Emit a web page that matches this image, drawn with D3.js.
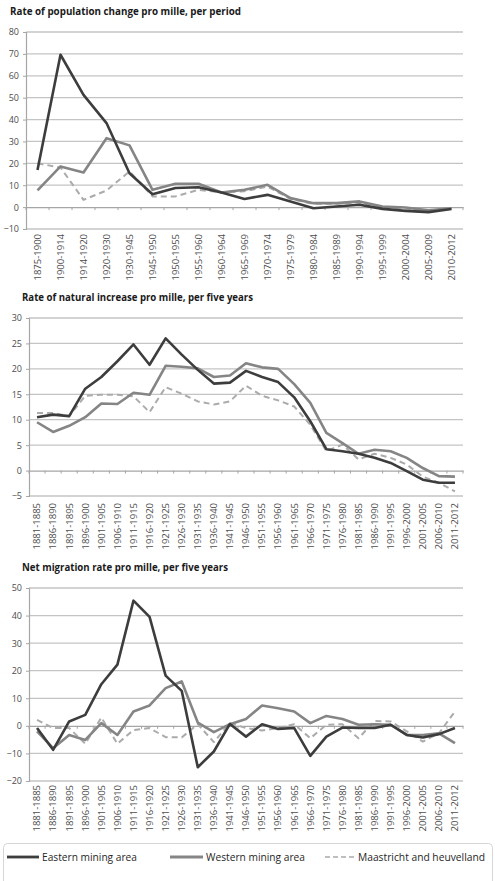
<!DOCTYPE html>
<html><head><meta charset="utf-8">
<script src="https://cdn.jsdelivr.net/npm/d3@7"></script>
<style>
body{margin:0;background:#fff;}
svg{display:block;font-family:"Open Sans",sans-serif;}
</style></head>
<body>
<script>
// ---------- DATA ----------
const periods1 = ["1875-1900","1900-1914","1914-1920","1920-1930","1930-1945","1945-1950","1950-1955","1955-1960","1960-1964","1965-1969","1970-1974","1975-1979","1980-1984","1985-1989","1990-1994","1995-1999","2000-2004","2005-2009","2010-2012"];
const eastern1 = [17,69.6,51.3,38.4,15.5,5.9,8.7,9.1,6.7,3.7,5.6,2.6,-0.5,0.3,1.1,-0.8,-1.7,-2.3,-0.9];
const western1 = [7.6,18.6,15.8,31.5,28.2,7.9,10.7,10.7,6.7,7.9,10.2,4.1,1.8,1.8,2.6,0.3,-0.2,-1.5,-0.5];
const maas1    = [20,18.1,3.3,7.6,16.3,4.9,4.9,7.9,6.7,7.2,9.4,3.7,1.5,1.5,2.1,0,-1.2,-2,-0.5];

const periods5 = ["1881-1885","1886-1890","1891-1895","1896-1900","1901-1905","1906-1910","1911-1915","1916-1920","1921-1925","1926-1930","1931-1935","1936-1940","1941-1945","1946-1950","1951-1955","1956-1960","1961-1965","1966-1970","1971-1975","1976-1980","1981-1985","1986-1990","1991-1995","1996-2000","2001-2005","2006-2010","2011-2012"];
const eastern2 = [10.5,11,10.7,16.1,18.4,21.5,24.8,20.8,26,22.8,19.8,17.1,17.3,19.6,18.4,17.4,14.4,9.7,4.2,3.8,3.3,2.5,1.5,-0.1,-1.8,-2.4,-2.4];
const western2 = [9.5,7.6,8.8,10.5,13.2,13.1,15.3,14.9,20.6,20.4,20.1,18.4,18.7,21.1,20.3,20,17,13.3,7.4,5.4,3.3,4.1,3.8,2.5,0.5,-1.1,-1.2];
const maas2    = [11.3,11.3,10.7,14.7,14.9,14.9,14.6,11.5,16.4,15.1,13.6,13,13.6,16.7,14.7,13.8,12.6,9,3.8,5.1,2.2,3.3,2.5,1.2,-1.2,-2.4,-4.1];

const eastern3 = [-0.8,-8.7,1.6,4,15.1,22.2,45.4,39.5,18.2,12.7,-15,-9.3,0.7,-3.9,0.6,-1.1,-0.8,-10.9,-3.9,-0.6,-0.8,-0.8,0.4,-3.3,-4.2,-3,-0.8];
const western3 = [-2,-8.1,-3.3,-5.1,1,-3.3,5.2,7.4,13.7,16.1,1.2,-2.3,0.6,2.5,7.4,6.4,5.2,1,3.6,2.5,0.4,0.6,0.4,-3.3,-3.3,-2.7,-6.3];
const maas3    = [2.2,-0.8,-0.8,-6.5,3,-6.5,-1.5,-0.8,-4.1,-4.2,0.6,-5.9,1,-0.8,-1.7,-0.8,0.6,-4.5,0.4,0.6,-4.5,1.8,1.6,-2,-5.7,-2.7,5.2];

const yTicks1 = [-10,0,10,20,30,40,50,60,70,80];
const yTicks2 = [-5,0,5,10,15,20,25,30];
const yTicks3 = [-20,-10,0,10,20,30,40,50];

const seriesNames = ["Eastern mining area","Western mining area","Maastricht and heuvelland"];
const titles = ["Rate of population change pro mille, per period","Rate of natural increase pro mille, per five years","Net migration rate pro mille, per five years"];

// ---------- STYLE / LAYOUT ----------
const W = 495, H = 881;
const styles = [
  {color:"#3d3d3d", width:2.6, dash:null},
  {color:"#858585", width:2.6, dash:null},
  {color:"#ababab", width:2, dash:"6,4"}
];
const panels = [
  {title:titles[0], cats:periods1, data:[eastern1,western1,maas1], ticks:yTicks1, left:26, right:463, top:32, bottom:229, titleX:10, titleY:15, titleW:231, labelGap:5},
  {title:titles[1], cats:periods5, data:[eastern2,western2,maas2], ticks:yTicks2, left:29, right:463, top:318, bottom:496, titleX:22, titleY:301, titleW:231, labelGap:7},
  {title:titles[2], cats:periods5, data:[eastern3,western3,maas3], ticks:yTicks3, left:29, right:463, top:588, bottom:781, titleX:22, titleY:571, titleW:206, labelGap:4}
];

const svg = d3.select("body").append("svg").attr("width",W).attr("height",H);

panels.forEach(p => {
  const g = svg.append("g");
  const x = d3.scaleBand().domain(p.cats).range([p.left, p.right]);
  const y = d3.scaleLinear().domain(d3.extent(p.ticks)).range([p.bottom, p.top]);

  g.append("text").attr("x",p.titleX).attr("y",p.titleY)
    .attr("font-size",10).attr("font-weight","bold").attr("fill","#1a1a1a")
    .attr("textLength",p.titleW).attr("lengthAdjust","spacingAndGlyphs")
    .text(p.title);

  // gridlines
  g.selectAll(".grid").data(p.ticks.filter(t=>t!==0)).enter().append("line")
    .attr("x1",p.left).attr("x2",p.right)
    .attr("y1",d=>y(d)).attr("y2",d=>y(d))
    .attr("stroke","#c4c4c4").attr("stroke-width",1.3);

  // y axis
  const ya = g.append("g").attr("transform",`translate(${p.left},0)`)
    .call(d3.axisLeft(y).tickValues(p.ticks).tickSize(3).tickPadding(4));
  ya.select(".domain").attr("stroke","#a6a6a6").attr("stroke-width",1.2);
  ya.selectAll(".tick line").attr("stroke","#a6a6a6");
  ya.selectAll("text").attr("font-size",9).attr("fill","#4d4d4d").attr("font-family","Open Sans, sans-serif");

  // x axis at zero
  const xa = g.append("g").attr("transform",`translate(0,${y(0)})`)
    .call(d3.axisBottom(x).tickSize(0).tickFormat(""));
  xa.select(".domain").attr("stroke","#a6a6a6").attr("stroke-width",1.3);
  g.selectAll(".xt").data(p.cats.map((c,i)=>x(c)).concat([p.right])).enter().append("line")
    .attr("x1",d=>d).attr("x2",d=>d).attr("y1",y(0)).attr("y2",y(0)+3)
    .attr("stroke","#a6a6a6");

  // x labels
  g.selectAll(".xl").data(p.cats).enter().append("text")
    .attr("transform",d=>`translate(${x(d)+x.bandwidth()/2},${p.bottom+p.labelGap}) rotate(-90)`)
    .attr("text-anchor","end").attr("dy","0.35em")
    .attr("font-size",9.5).attr("fill","#4d4d4d")
    .text(d=>d);

  // lines
  const line = d3.line().x((d,i)=>x(p.cats[i])+x.bandwidth()/2).y(d=>y(d));
  [2,1,0].forEach(k => {
    g.append("path").datum(p.data[k]).attr("d",line)
      .attr("fill","none").attr("stroke",styles[k].color)
      .attr("stroke-width",styles[k].width)
      .attr("stroke-dasharray",styles[k].dash)
      .attr("stroke-linejoin","round");
  });
});

// legend
const lg = svg.append("g");
lg.append("rect").attr("x",3.5).attr("y",843.5).attr("width",489).attr("height",50).attr("rx",4)
  .attr("fill","#fff").attr("stroke","#d6d6d6");
const legItems = [
  {lx:7, tx:42, tw:95},
  {lx:170, tx:206, tw:99},
  {lx:325, tx:358, tw:127}
];
legItems.forEach((it,k) => {
  lg.append("line").attr("x1",it.lx).attr("x2",it.tx-3).attr("y1",857).attr("y2",857)
    .attr("stroke",styles[k].color).attr("stroke-width",k===2?1.5:2.8)
    .attr("stroke-dasharray",k===2?"5,3":null);
  lg.append("text").attr("x",it.tx).attr("y",860.5).attr("font-size",10).attr("fill","#262626")
    .attr("textLength",it.tw).attr("lengthAdjust","spacingAndGlyphs")
    .text(seriesNames[k]);
});
</script>
</body></html>
